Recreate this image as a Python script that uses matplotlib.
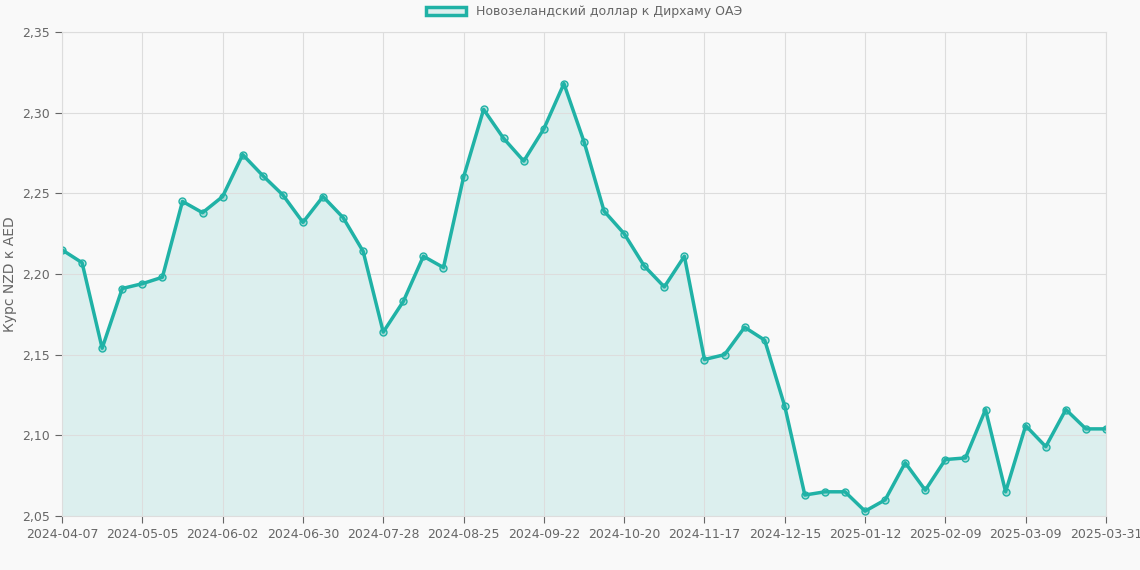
import matplotlib
matplotlib.use("Agg")
import matplotlib.pyplot as plt
import datetime as dt

start = dt.date(2024, 4, 7)
dates = [(start + dt.timedelta(weeks=i)).isoformat() for i in range(52)] + ["2025-03-31"]
values = [2.215, 2.207, 2.154, 2.191, 2.194, 2.198, 2.245, 2.238, 2.248, 2.274,
          2.261, 2.249, 2.232, 2.248, 2.235, 2.214, 2.164, 2.183, 2.211, 2.204,
          2.260, 2.302, 2.284, 2.270, 2.290, 2.318, 2.282, 2.239, 2.225, 2.205,
          2.192, 2.211, 2.147, 2.150, 2.167, 2.159, 2.118, 2.063, 2.065, 2.065,
          2.053, 2.060, 2.083, 2.066, 2.085, 2.086, 2.116, 2.065, 2.106, 2.093,
          2.116, 2.104, 2.104]
label = "Новозеландский доллар к Дирхаму ОАЭ"
ylabel = "Курс NZD к AED"

color = "#20b2a6"
fig = plt.figure(figsize=(11.4, 5.7), dpi=100, facecolor="#f9f9f9")
ax = fig.add_axes([62/1140, 54/570, 1044/1140, 484/570], facecolor="#f9f9f9")
x = list(range(len(values)))
ax.fill_between(x, values, 2.05, color=color, alpha=0.13, lw=0)
ax.plot(x, values, color=color, lw=2.5, marker="o", ms=5, mfc=(0.13, 0.7, 0.65, 0.3), mec=color, mew=1)
ax.set_xlim(0, len(values) - 1)
ax.set_ylim(2.05, 2.35)
ticks = list(range(0, 49, 4)) + [52]
ax.set_xticks(ticks)
ax.set_xticklabels([dates[i] for i in ticks])
ax.set_xticks(x, minor=False) if False else None
yt = [2.05, 2.10, 2.15, 2.20, 2.25, 2.30, 2.35]
ax.set_yticks(yt)
ax.set_yticklabels([f"{v:.2f}".replace(".", ",") for v in yt])
ax.grid(True, color="#dddddd", lw=0.8)
ax.tick_params(colors="#666666", labelsize=9, length=5)
for s in ax.spines.values():
    s.set_color("#dddddd")
ax.set_ylabel(ylabel, color="#666666", fontsize=10)
from matplotlib.patches import Patch
ax.legend(handles=[Patch(facecolor=(0.13, 0.7, 0.65, 0.13), edgecolor=color, lw=2.5, label=label)],
          loc="lower center", bbox_to_anchor=(0.5, 1.005), frameon=False, fontsize=9,
          labelcolor="#666666", handlelength=3.2)
fig.savefig("out.png", dpi=100, facecolor=fig.get_facecolor())
